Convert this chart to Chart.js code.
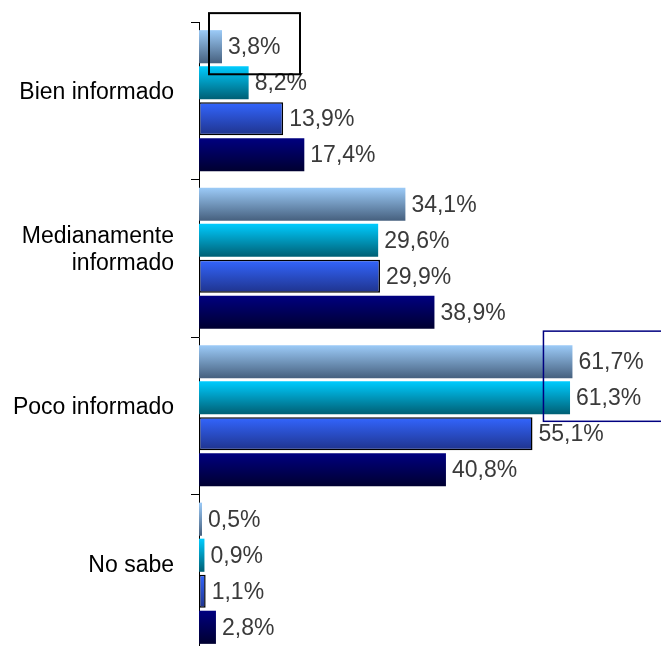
<!DOCTYPE html>
<html>
<head>
<meta charset="utf-8">
<script src="https://cdn.jsdelivr.net/npm/chart.js@4"></script>
<style>
  html, body { margin: 0; padding: 0; background: #fff; overflow: hidden; }
  #wrap { width: 661px; height: 680px; }
</style>
</head>
<body>
<div id="wrap"><canvas id="chart"></canvas></div>
<script>
/*********************************
 DATA
*********************************/
const CATEGORIES = ["Bien informado", ["Medianamente", "informado"], "Poco informado", "No sabe"];
const SERIES = ["Serie 1", "Serie 2", "Serie 3", "Serie 4"];
const SERIE_1 = [3.8, 34.1, 61.7, 0.5];
const SERIE_2 = [8.2, 29.6, 61.3, 0.9];
const SERIE_3 = [13.9, 29.9, 55.1, 1.1];
const SERIE_4 = [17.4, 38.9, 40.8, 2.8];
const X_MAX = 76;

/*********************************
 CONFIG
*********************************/
const CAT_PCT = 0.915;
const BAR_PCT = 0.92;
const FONT = "'Liberation Sans', Arial, sans-serif";

// vertical gradient per bar, computed from the y scale
function grad(top, bottom) {
  return (c) => {
    const chart = c.chart;
    const ys = chart.scales.y;
    if (c.type !== "data" || !chart.chartArea || !ys) return top;
    const step = (ys.bottom - ys.top) / CATEGORIES.length;
    const slot = step * CAT_PCT / SERIES.length;
    const mid = ys.getPixelForValue(c.dataIndex);
    const start = mid - step * CAT_PCT / 2 + c.datasetIndex * slot;
    const t = start + slot * (1 - BAR_PCT) / 2;
    const b = t + slot * BAR_PCT;
    const g = chart.ctx.createLinearGradient(0, t, 0, b);
    g.addColorStop(0, top);
    g.addColorStop(1, bottom);
    return g;
  };
}

function fmt(v) {
  return v.toFixed(1).replace(".", ",") + "%";
}

/*********************************
 PLUGINS
*********************************/
const valueLabels = {
  id: "valueLabels",
  afterDatasetsDraw(chart) {
    const ctx = chart.ctx;
    ctx.save();
    ctx.font = "23px " + FONT;
    ctx.fillStyle = "#3a3a3a";
    ctx.textAlign = "left";
    ctx.textBaseline = "middle";
    chart.data.datasets.forEach((ds, i) => {
      chart.getDatasetMeta(i).data.forEach((bar, j) => {
        ctx.fillText(fmt(ds.data[j]), bar.x + 6, bar.y + 1);
      });
    });
    ctx.restore();
  }
};

const boxes = {
  id: "boxes",
  afterDraw(chart) {
    const ctx = chart.ctx;
    const a = chart.getDatasetMeta(0).data[0];
    const p = chart.getDatasetMeta(0).data[2];
    const q = chart.getDatasetMeta(1).data[2];
    ctx.save();
    // box round first label
    ctx.strokeStyle = "#000";
    ctx.lineWidth = 2;
    const aTop = a.y - a.height / 2;
    ctx.strokeRect(a.x - 13, aTop - 17, 91, a.height + 28);
    // box round the two biggest labels
    ctx.strokeStyle = "#000080";
    ctx.lineWidth = 1.5;
    const pTop = p.y - p.height / 2;
    const qBot = q.y + q.height / 2;
    ctx.strokeRect(p.x - 29, pTop - 14, 130, qBot - pTop + 21);
    ctx.restore();
  }
};

/*********************************
 CHART
*********************************/
Chart.defaults.font.family = FONT;

new Chart(document.getElementById("chart"), {
  type: "bar",
  data: {
    labels: CATEGORIES,
    datasets: [
      { label: SERIES[0], data: SERIE_1, backgroundColor: grad("#9ccbf8", "#46607e"), borderWidth: 0 },
      { label: SERIES[1], data: SERIE_2, backgroundColor: grad("#00ccff", "#005f74"), borderWidth: 0 },
      { label: SERIES[2], data: SERIE_3, backgroundColor: grad("#3366ff", "#1f338c"), borderColor: "#000", borderWidth: 1.5, borderSkipped: false },
      { label: SERIES[3], data: SERIE_4, backgroundColor: grad("#000080", "#000030"), borderWidth: 0 }
    ]
  },
  options: {
    indexAxis: "y",
    responsive: true,
    maintainAspectRatio: false,
    animation: false,
    categoryPercentage: CAT_PCT,
    barPercentage: BAR_PCT,
    layout: { padding: { top: 22, right: 2, bottom: 28, left: 0 } },
    plugins: {
      legend: { display: false },
      tooltip: { enabled: false }
    },
    scales: {
      x: {
        display: false,
        min: 0,
        max: X_MAX
      },
      y: {
        afterFit(scale) {
          scale.width = 199;
          scale.paddingTop = 0;
          scale.paddingBottom = 0;
        },
        grid: {
          offset: true,
          drawOnChartArea: false,
          drawTicks: true,
          tickLength: 8,
          color: "#000"
        },
        border: { display: true, color: "#000", width: 1 },
        ticks: {
          color: "#000",
          padding: 17,
          labelOffset: -8,
          font: { size: 23 }
        }
      }
    }
  },
  plugins: [valueLabels, boxes]
});
</script>
</body>
</html>
